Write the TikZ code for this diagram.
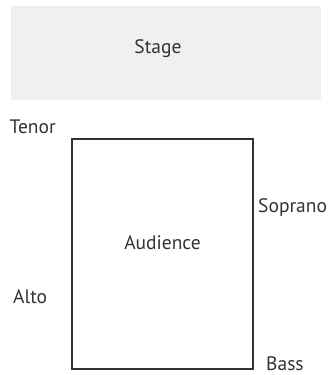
\documentclass[tikz,border=0pt]{standalone}
\usepackage{fontspec}
\setmainfont{PT Sans}
\definecolor{stagefill}{HTML}{EEF1EF}
\definecolor{ink}{HTML}{333333}
\begin{document}
\begin{tikzpicture}[x=1pt,y=-1pt,
  lbl/.style={text=ink,font=\fontsize{19.5}{22}\selectfont,inner sep=0pt}]
\useasboundingbox (0,0) rectangle (334,375);
\node[fill=stagefill,minimum width=310pt,minimum height=94pt,inner sep=0pt,anchor=north west] (stage) at (11,6) {};
\node[lbl] (stagetxt) at (158,49) {Stage};
\draw[ink,line width=2.6pt] (72,139) rectangle (253,369);
\node[lbl] (aud) at (162.5,243) {Audience};
\node[lbl,anchor=west] (tenor) at (9.5,127) {Tenor};
\node[lbl,anchor=west] (sop) at (258,208) {Soprano};
\node[lbl,anchor=west] (alto) at (13,297) {Alto};
\node[lbl,anchor=west] (bass) at (266,364) {Bass};
\end{tikzpicture}
\end{document}
